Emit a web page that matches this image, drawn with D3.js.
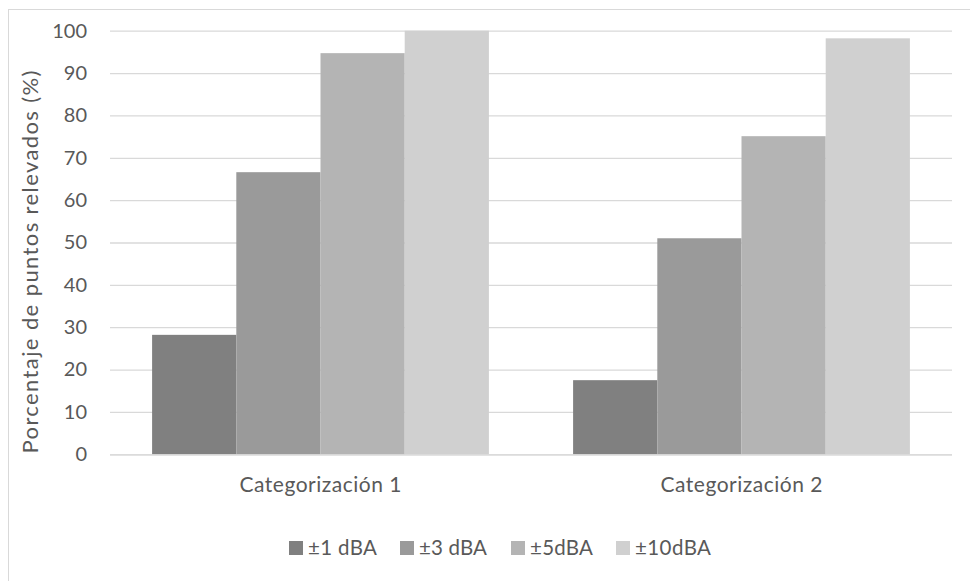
<!DOCTYPE html>
<html><head><meta charset="utf-8">
<script src="https://cdn.jsdelivr.net/npm/d3@7"></script>
<style>body{margin:0;background:#fff}text{font-family:Lato,"Open Sans",sans-serif;fill:#595959}</style>
</head><body><svg id="c" width="970" height="581"></svg>
<script>
const categories = ["Categorización 1", "Categorización 2"];
const seriesNames = ["±1 dBA", "±3 dBA", "±5dBA", "±10dBA"];
const s1 = [28.2, 17.5];
const s2 = [66.6, 51.0];
const s3 = [94.7, 75.1];
const s4 = [100, 98.2];
const yTicks = [0,10,20,30,40,50,60,70,80,90,100];
const seriesValues = [s1, s2, s3, s4];
const colors = ["#808080", "#9a9a9a", "#b4b4b4", "#d0d0d0"];

const svg = d3.select("#c");
svg.append("rect").attr("x",8.5).attr("y",9.5).attr("width",1000).attr("height",1000)
  .attr("fill","none").attr("stroke","#d9d9d9");

const L=110, R=952, T=30.7, B=454.3;
const y = d3.scaleLinear().domain([0,100]).range([B,T]);
const x0 = d3.scaleBand().domain(categories).range([L,R]).paddingInner(0.2).paddingOuter(0.1);
const x1 = d3.scaleBand().domain(d3.range(seriesNames.length)).range([0,x0.bandwidth()]);

const yAxis = svg.append("g").attr("transform",`translate(${L},0)`)
  .call(d3.axisLeft(y).tickValues(yTicks).tickSize(-(R-L)).tickPadding(23));
yAxis.select(".domain").remove();
yAxis.selectAll("line").attr("stroke","#d9d9d9").attr("stroke-width",1.3);
yAxis.selectAll("text").style("font-size","20px").attr("fill","#595959");

const g = svg.append("g");
seriesValues.forEach((vals,i)=>{
  g.selectAll(null).data(categories).enter().append("rect")
    .attr("x",d=>x0(d)+x1(i)).attr("width",x1.bandwidth())
    .attr("y",(d,j)=>y(vals[j])).attr("height",(d,j)=>B-y(vals[j]))
    .attr("fill",colors[i]);
});
svg.append("line").attr("x1",L).attr("x2",R).attr("y1",B+0.5).attr("y2",B+0.5)
  .attr("stroke","#d9d9d9").attr("stroke-width",1.3);

const xAxis = svg.append("g").attr("transform",`translate(0,${B})`)
  .call(d3.axisBottom(x0).tickSize(0).tickPadding(23));
xAxis.select(".domain").remove();
xAxis.selectAll("text").style("font-size","21px").attr("fill","#595959")
  .attr("textLength",162).attr("lengthAdjust","spacing");

svg.append("text").attr("transform",`translate(38,262) rotate(-90)`)
  .attr("text-anchor","middle").style("font-size","22px")
  .attr("textLength",383).attr("lengthAdjust","spacing")
  .text("Porcentaje de puntos relevados (%)");

const legX = [289, 400, 511, 616];
const legW = [69, 68, 63, 76];
const leg = svg.append("g");
seriesNames.forEach((n,i)=>{
  leg.append("rect").attr("x",legX[i]).attr("y",541).attr("width",14).attr("height",14).attr("fill",colors[i]);
  leg.append("text").attr("x",legX[i]+19).attr("y",555).style("font-size","20.5px")
    .attr("textLength",legW[i]).attr("lengthAdjust","spacing").text(n);
});
</script></body></html>
